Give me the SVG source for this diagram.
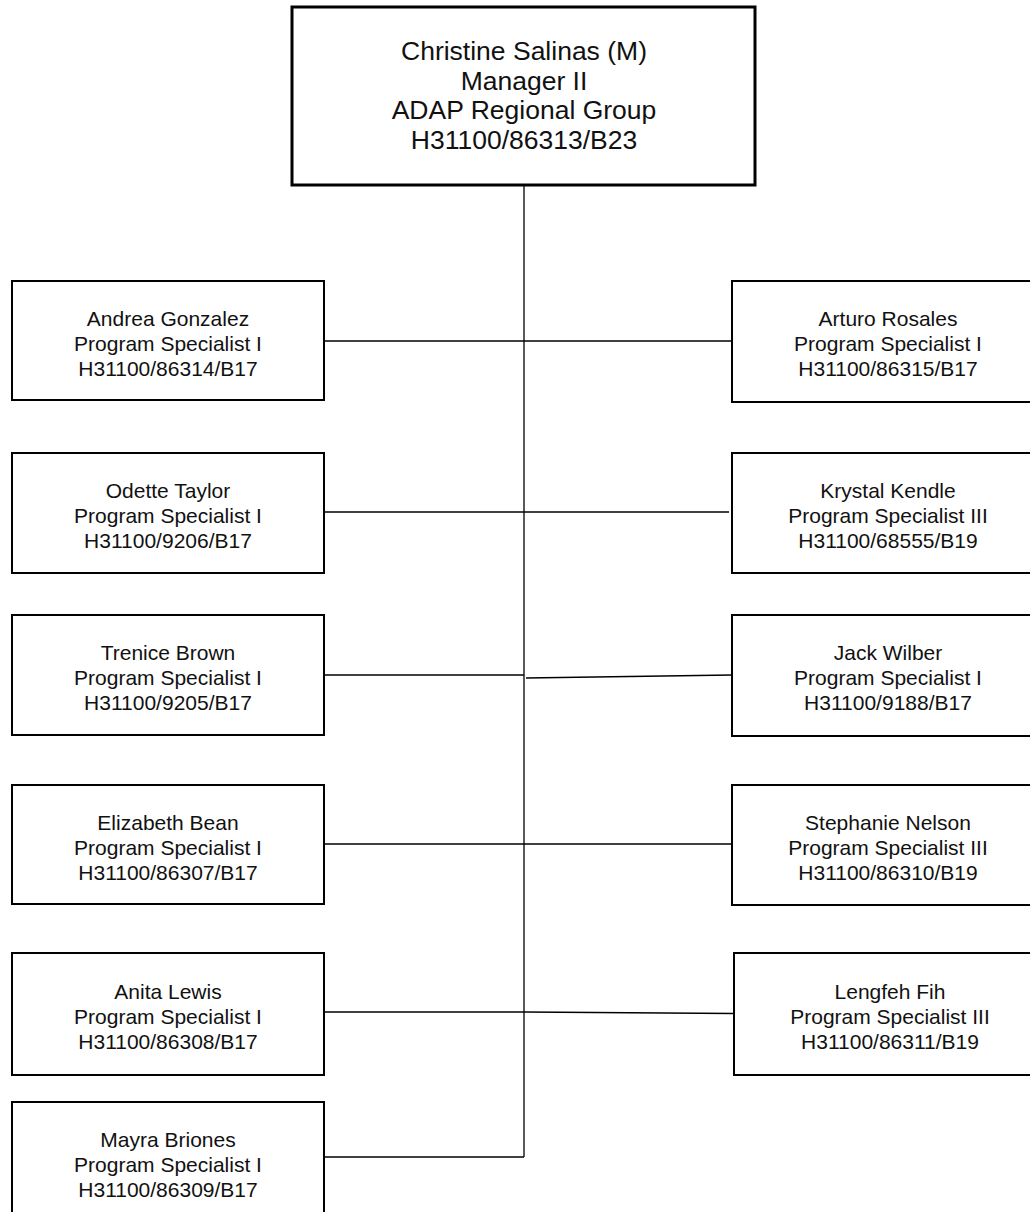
<svg xmlns="http://www.w3.org/2000/svg" width="1030" height="1212" viewBox="0 0 1030 1212">
<style>
  .box { fill: #ffffff; stroke: #000000; stroke-width: 2; }
  .top { fill: #ffffff; stroke: #000000; stroke-width: 3; }
  .conn { fill: none; stroke: #000000; stroke-width: 1.3; }
  text { font-family: "Liberation Sans", Arial, sans-serif; fill: #111111; text-anchor: middle; }
  .t { font-size: 21px; }
  .h { font-size: 26.5px; }
</style>
<rect x="0" y="0" width="1030" height="1212" fill="#ffffff"/>
<g id="connectors">
  <line class="conn" x1="524" y1="185" x2="524" y2="1157"/>
  <line class="conn" x1="324" y1="1157" x2="524" y2="1157"/>
  <line class="conn" x1="324" y1="341" x2="732" y2="341"/>
  <line class="conn" x1="324" y1="512" x2="524" y2="512"/>
  <line class="conn" x1="524" y1="512" x2="729" y2="512"/>
  <line class="conn" x1="324" y1="675" x2="524" y2="675"/>
  <line class="conn" x1="526" y1="678" x2="732" y2="675"/>
  <line class="conn" x1="324" y1="844" x2="735" y2="844"/>
  <line class="conn" x1="324" y1="1012" x2="524" y2="1012"/>
  <line class="conn" x1="524" y1="1012" x2="734" y2="1013.5"/>
</g>
<g id="manager">
  <rect class="top" x="292" y="7" width="463" height="178"/>
  <text class="h" x="524" y="60">Christine Salinas (M)</text>
  <text class="h" x="524" y="89.5">Manager II</text>
  <text class="h" x="524" y="119">ADAP Regional Group</text>
  <text class="h" x="524" y="148.5">H31100/86313/B23</text>
</g>
<g id="andrea">
  <rect class="box" x="12" y="281" width="312" height="119"/>
  <text class="t" x="168" y="326">Andrea Gonzalez</text>
  <text class="t" x="168" y="351">Program Specialist I</text>
  <text class="t" x="168" y="376">H31100/86314/B17</text>
</g>
<g id="odette">
  <rect class="box" x="12" y="453" width="312" height="120"/>
  <text class="t" x="168" y="498">Odette Taylor</text>
  <text class="t" x="168" y="523">Program Specialist I</text>
  <text class="t" x="168" y="548">H31100/9206/B17</text>
</g>
<g id="trenice">
  <rect class="box" x="12" y="615" width="312" height="120"/>
  <text class="t" x="168" y="660">Trenice Brown</text>
  <text class="t" x="168" y="685">Program Specialist I</text>
  <text class="t" x="168" y="710">H31100/9205/B17</text>
</g>
<g id="elizabeth">
  <rect class="box" x="12" y="785" width="312" height="119"/>
  <text class="t" x="168" y="830">Elizabeth Bean</text>
  <text class="t" x="168" y="855">Program Specialist I</text>
  <text class="t" x="168" y="880">H31100/86307/B17</text>
</g>
<g id="anita">
  <rect class="box" x="12" y="953" width="312" height="122"/>
  <text class="t" x="168" y="999">Anita Lewis</text>
  <text class="t" x="168" y="1024">Program Specialist I</text>
  <text class="t" x="168" y="1049">H31100/86308/B17</text>
</g>
<g id="mayra">
  <rect class="box" x="12" y="1102" width="312" height="122"/>
  <text class="t" x="168" y="1147">Mayra Briones</text>
  <text class="t" x="168" y="1172">Program Specialist I</text>
  <text class="t" x="168" y="1197">H31100/86309/B17</text>
</g>
<g id="arturo">
  <rect class="box" x="732" y="281" width="312" height="121"/>
  <text class="t" x="888" y="326">Arturo Rosales</text>
  <text class="t" x="888" y="351">Program Specialist I</text>
  <text class="t" x="888" y="376">H31100/86315/B17</text>
</g>
<g id="krystal">
  <rect class="box" x="732" y="453" width="312" height="120"/>
  <text class="t" x="888" y="498">Krystal Kendle</text>
  <text class="t" x="888" y="523">Program Specialist III</text>
  <text class="t" x="888" y="548">H31100/68555/B19</text>
</g>
<g id="jack">
  <rect class="box" x="732" y="615" width="312" height="121"/>
  <text class="t" x="888" y="660">Jack Wilber</text>
  <text class="t" x="888" y="685">Program Specialist I</text>
  <text class="t" x="888" y="710">H31100/9188/B17</text>
</g>
<g id="stephanie">
  <rect class="box" x="732" y="785" width="312" height="120"/>
  <text class="t" x="888" y="830">Stephanie Nelson</text>
  <text class="t" x="888" y="855">Program Specialist III</text>
  <text class="t" x="888" y="880">H31100/86310/B19</text>
</g>
<g id="lengfeh">
  <rect class="box" x="734" y="953" width="312" height="122"/>
  <text class="t" x="890" y="999">Lengfeh Fih</text>
  <text class="t" x="890" y="1024">Program Specialist III</text>
  <text class="t" x="890" y="1049">H31100/86311/B19</text>
</g>
</svg>
